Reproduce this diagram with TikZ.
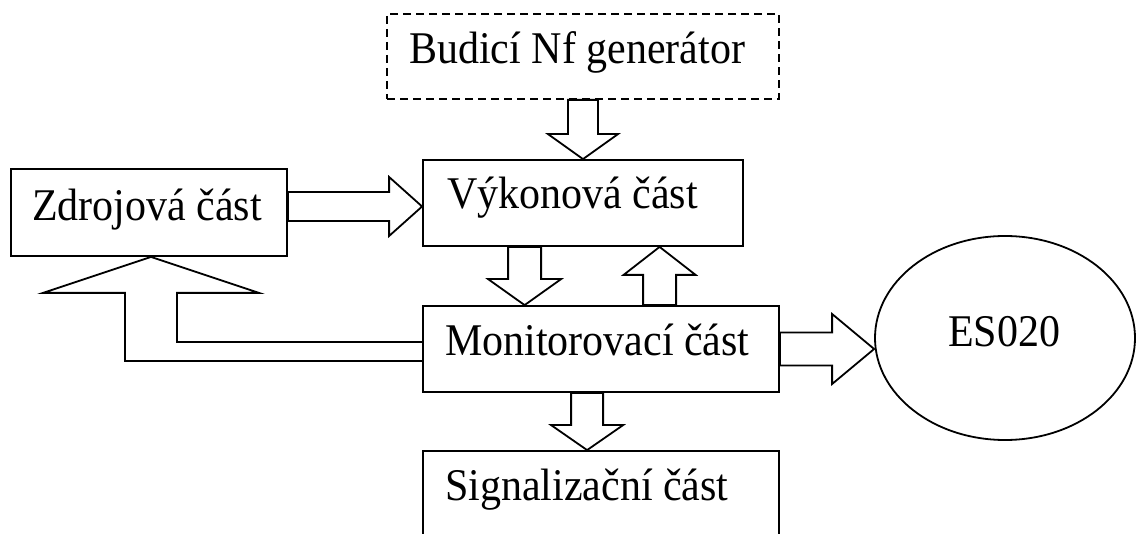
\documentclass[tikz,border=0pt]{standalone}
\usepackage{fontspec}
\setmainfont{Liberation Serif}
\usetikzlibrary{calc,shapes.geometric}
\tikzset{
  box/.style={draw, line width=1.8pt, rectangle, inner sep=0pt},
  dbox/.style={box, dash pattern=on 8pt off 5pt},
  oval/.style={draw, line width=1.8pt, ellipse, inner sep=0pt},
  lbl/.style={inner sep=0pt, anchor=base west, font=\fontsize{42}{50}\selectfont},
  barrow/.style={draw, line width=1.8pt, line join=miter},
}
\newcommand\tallt[1]{\scalebox{1}[1.08]{#1}}
% #1 start, #2 tip, #3 half shaft width, #4 half head width, #5 head length
\newcommand\blockarrow[5]{%
  \coordinate (ba-h) at ($(#2)!#5!(#1)$);
  \draw[barrow] ($(#1)!#3!90:(#2)$) -- ($(ba-h)!#3!90:(#2)$) -- ($(ba-h)!#4!90:(#2)$)
    -- (#2) -- ($(ba-h)!#4!-90:(#2)$) -- ($(ba-h)!#3!-90:(#2)$) -- ($(#1)!#3!-90:(#2)$) -- cycle;
}
\begin{document}
\begin{tikzpicture}[x=1pt,y=-1pt]
\useasboundingbox (0,0) rectangle (1136,534);
\clip (0,0) rectangle (1136,534);
% boxes
\node[dbox, minimum width=392pt, minimum height=85pt] (bud) at (583,56.5) {};
\node[lbl] (budT) at (409,64) {\tallt{Budicí Nf generátor}};
\node[box, minimum width=320pt, minimum height=86pt] (vyk) at (583,203) {};
\node[lbl] (vykT) at (447,208.5) {\tallt{Výkonová část}};
\node[box, minimum width=276pt, minimum height=87pt] (zdr) at (149,212.5) {};
\node[lbl] (zdrT) at (32,221) {\tallt{Zdrojová část}};
\node[box, minimum width=356pt, minimum height=86pt] (mon) at (601,349) {};
\node[lbl] (monT) at (445,356) {\tallt{Monitorovací část}};
\node[box, minimum width=356pt, minimum height=120pt] (sig) at (601,511) {};
\node[lbl] (sigT) at (445,500.5) {\tallt{Signalizační část}};
\node[oval, minimum width=260pt, minimum height=204pt] (es) at (1005,338) {};
\node[lbl, anchor=base] (esT) at (1004,347) {\tallt{ES020}};
% block arrows
\blockarrow{bud.south}{vyk.north}{15pt}{35pt}{25pt}
\coordinate (z1) at ($(zdr.east)+(0,-6)$);
\coordinate (z2) at (z1 -| vyk.west);
\blockarrow{z1}{z2}{14.5pt}{29.5pt}{33pt}
\coordinate (v1) at ($(vyk.south west)+(102.5,0)$);
\coordinate (v2) at (v1 |- mon.north);
\blockarrow{v1}{v2}{16.5pt}{36.5pt}{26pt}
\coordinate (m1) at ($(mon.north west)+(237.5,0)$);
\coordinate (m2) at (m1 |- vyk.south);
\blockarrow{m1}{m2}{16.5pt}{36pt}{28pt}
\coordinate (m3) at (mon.east);
\coordinate (m4) at (m3 -| es.west);
\blockarrow{m3}{m4}{16.5pt}{35pt}{42pt}
\coordinate (m5) at ($(mon.south west)+(165,0)$);
\coordinate (m6) at (m5 |- sig.north);
\blockarrow{m5}{m6}{16pt}{36pt}{25pt}
% L-shaped arrow from Monitorovaci to Zdrojova
\coordinate (la) at ($(mon.north west)+(0,37)$);
\coordinate (lb) at ($(mon.north west)+(0,56)$);
\coordinate (lt) at ($(zdr.south)+(2,0)$);
\coordinate (lsr) at ($(lt)+(26,36)$);
\coordinate (lsl) at ($(lt)+(-26,36)$);
\coordinate (lhr) at ($(lt)+(108,36)$);
\coordinate (lhl) at ($(lt)+(-108,36)$);
\draw[barrow] (la) -- (la -| lsr) -- (lsr) -- (lhr) -- (lt) -- (lhl) -- (lsl) -- (lb -| lsl) -- (lb);
\end{tikzpicture}
\end{document}
